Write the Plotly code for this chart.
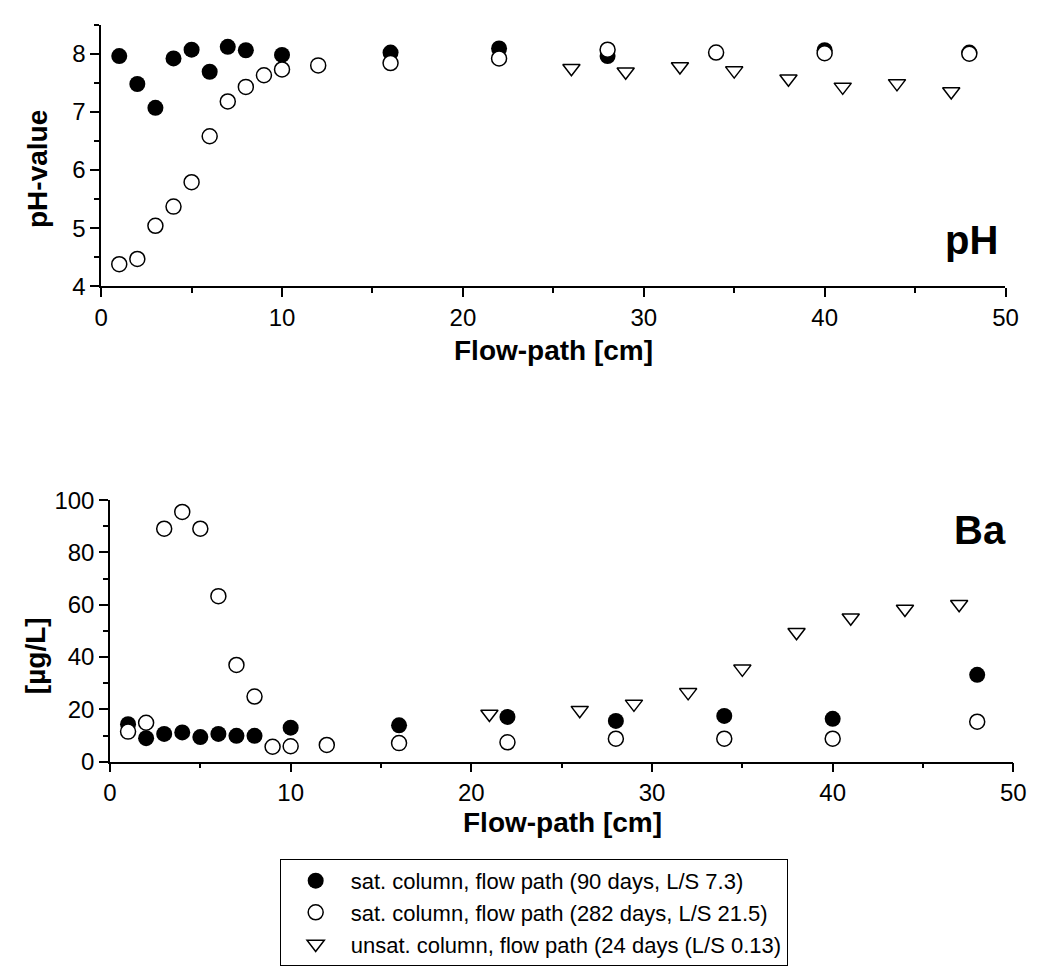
import plotly.graph_objects as go

W, H = 1044, 974

# ---------------- data ----------------
# pH panel
ph_x_sat90 = [1, 2, 3, 4, 5, 6, 7, 8, 10, 16, 22, 28, 40, 48]
ph_y_sat90 = [7.96, 7.48, 7.07, 7.92, 8.07, 7.69, 8.12, 8.06, 7.98, 8.02, 8.09, 7.96, 8.06, 8.02]

ph_x_sat282 = [1, 2, 3, 4, 5, 6, 7, 8, 9, 10, 12, 16, 22, 28, 34, 40, 48]
ph_y_sat282 = [4.38, 4.47, 5.04, 5.37, 5.79, 6.58, 7.18, 7.43, 7.63, 7.73, 7.80, 7.84, 7.92, 8.07, 8.02, 8.01, 8.00]

ph_x_unsat = [26, 29, 32, 35, 38, 41, 44, 47]
ph_y_unsat = [7.75, 7.69, 7.78, 7.71, 7.57, 7.43, 7.49, 7.35]

# Ba panel
ba_x_sat90 = [1, 2, 3, 4, 5, 6, 7, 8, 10, 16, 22, 28, 34, 40, 48]
ba_y_sat90 = [14.3, 9.0, 10.6, 11.2, 9.4, 10.6, 9.9, 9.9, 13.0, 13.9, 17.1, 15.6, 17.5, 16.4, 33.2]

ba_x_sat282 = [1, 2, 3, 4, 5, 6, 7, 8, 9, 10, 12, 16, 22, 28, 34, 40, 48]
ba_y_sat282 = [11.5, 14.9, 89.1, 95.5, 89.1, 63.3, 37.0, 24.9, 5.7, 5.9, 6.4, 7.1, 7.4, 8.8, 8.8, 8.8, 15.3]

ba_x_unsat = [21, 26, 29, 32, 35, 38, 41, 44, 47]
ba_y_unsat = [18.2, 19.7, 22.1, 26.5, 35.5, 49.5, 55.0, 58.4, 60.2]

names = [
    "sat. column, flow path (90 days, L/S 7.3)",
    "sat. column, flow path (282 days, L/S 21.5)",
    "unsat. column, flow path (24 days (L/S 0.13)",
]

FONT = "Liberation Sans, Arial, sans-serif"

m_filled = dict(symbol="circle", size=16, color="black", line=dict(width=0))
m_open = dict(symbol="circle", size=15, color="white", line=dict(color="black", width=1.5))
m_tri = dict(symbol="triangle-down", size=15, color="white", line=dict(color="black", width=1.5))

fig = go.Figure()

# top panel
fig.add_trace(go.Scatter(x=ph_x_sat90, y=ph_y_sat90, mode="markers", marker=m_filled,
                         name=names[0], legendgroup="a", xaxis="x", yaxis="y"))
fig.add_trace(go.Scatter(x=ph_x_sat282, y=ph_y_sat282, mode="markers", marker=m_open,
                         name=names[1], legendgroup="b", xaxis="x", yaxis="y"))
fig.add_trace(go.Scatter(x=ph_x_unsat, y=ph_y_unsat, mode="markers", marker=m_tri,
                         name=names[2], legendgroup="c", xaxis="x", yaxis="y"))
# bottom panel
fig.add_trace(go.Scatter(x=ba_x_sat90, y=ba_y_sat90, mode="markers", marker=m_filled,
                         name=names[0], legendgroup="a", showlegend=False, xaxis="x2", yaxis="y2"))
fig.add_trace(go.Scatter(x=ba_x_sat282, y=ba_y_sat282, mode="markers", marker=m_open,
                         name=names[1], legendgroup="b", showlegend=False, xaxis="x2", yaxis="y2"))
fig.add_trace(go.Scatter(x=ba_x_unsat, y=ba_y_unsat, mode="markers", marker=m_tri,
                         name=names[2], legendgroup="c", showlegend=False, xaxis="x2", yaxis="y2"))


def px_x(p):
    return p / W


def px_y(p):
    return 1 - p / H


axis_common = dict(
    showline=True, linecolor="black", linewidth=1.5, mirror=False,
    ticks="outside", ticklen=9, tickwidth=1.5, tickcolor="black",
    showgrid=False, zeroline=False,
    tickfont=dict(family=FONT, size=24, color="black"),
)

fig.update_layout(
    width=W, height=H,
    margin=dict(l=0, r=0, t=0, b=0),
    paper_bgcolor="white", plot_bgcolor="white",
    font=dict(family=FONT, color="black"),
    xaxis=dict(domain=[px_x(96), px_x(1018)], range=[0, 50], dtick=10, anchor="y",
               minor=dict(ticks="outside", ticklen=5, dtick=5, tickwidth=1.5, tickcolor="black"),
               **axis_common),
    yaxis=dict(domain=[px_y(280), px_y(11)], range=[4, 8.5], tickvals=[4, 5, 6, 7, 8], anchor="x",
               minor=dict(ticks="outside", ticklen=5, dtick=0.5, tickwidth=1.5, tickcolor="black"),
               **axis_common),
    xaxis2=dict(domain=[px_x(105), px_x(1026)], range=[0, 50], dtick=10, anchor="y2",
                minor=dict(ticks="outside", ticklen=5, dtick=5, tickwidth=1.5, tickcolor="black"),
                **axis_common),
    yaxis2=dict(domain=[px_y(769), px_y(500)], range=[0, 100], dtick=20, anchor="x2",
                minor=dict(ticks="outside", ticklen=5, dtick=10, tickwidth=1.5, tickcolor="black"),
                **axis_common),
    showlegend=True,
    legend=dict(
        x=px_x(278), y=px_y(869), xanchor="left", yanchor="top",
        bordercolor="black", borderwidth=1, bgcolor="white",
        font=dict(family=FONT, size=22, color="black"),
        itemwidth=60, tracegroupgap=0,
    ),
)

title_font = dict(family=FONT, size=28, color="black")
annots = [
    dict(text="<b>Flow-path [cm]</b>", x=px_x(557), y=px_y(346), xref="paper", yref="paper",
         showarrow=False, font=title_font, xanchor="center", yanchor="middle"),
    dict(text="<b>Flow-path [cm]</b>", x=px_x(566), y=px_y(832), xref="paper", yref="paper",
         showarrow=False, font=title_font, xanchor="center", yanchor="middle"),
    dict(text="<b>pH-value</b>", x=px_x(31), y=px_y(159), xref="paper", yref="paper",
         showarrow=False, font=title_font, textangle=-90, xanchor="center", yanchor="middle"),
    dict(text="<b>[µg/L]</b>", x=px_x(29), y=px_y(660), xref="paper", yref="paper",
         showarrow=False, font=title_font, textangle=-90, xanchor="center", yanchor="middle"),
    dict(text="<b>pH</b>", x=49.7, y=4.8, xref="x", yref="y",
         showarrow=False, font=dict(family=FONT, size=40, color="black"),
         xanchor="right", yanchor="middle"),
    dict(text="<b>Ba</b>", x=49.7, y=88.5, xref="x2", yref="y2",
         showarrow=False, font=dict(family=FONT, size=40, color="black"),
         xanchor="right", yanchor="middle"),
]
fig.update_layout(annotations=annots)

fig.write_html("out.html")
